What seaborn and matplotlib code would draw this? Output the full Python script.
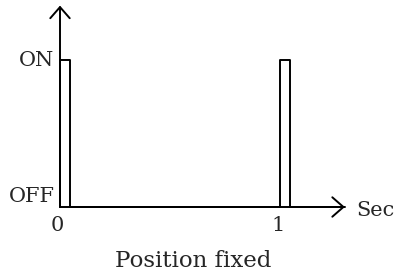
import numpy as np
import pandas as pd
import matplotlib
matplotlib.use("Agg")
import matplotlib.pyplot as plt
import seaborn as sns

# --- data ---
pulse_starts = [0.0, 1.0]      # seconds
pulse_width = 0.045            # seconds
levels = {"OFF": 0.0, "ON": 1.0}
x_ticks = [0, 1]
x_tick_labels = ["0", "1"]
x_end = 1.295
y_end = 1.37
x_label = "Sec"
caption = "Position fixed"

# build waveform from the pulse data
xs, ys = [], []
for s in pulse_starts:
    xs += [s, s, s + pulse_width, s + pulse_width]
    ys += [levels["OFF"], levels["ON"], levels["ON"], levels["OFF"]]
xs.append(x_end)
ys.append(levels["OFF"])
df = pd.DataFrame({"t": xs, "state": ys, "order": range(len(xs))})

sns.set_theme(style="white")
plt.rcParams["font.family"] = ["DejaVu Serif"]

fig = plt.figure(figsize=(3.96, 2.77), dpi=100)
ax = fig.add_axes([0, 0, 1, 1])
W, H = 396, 277
x0px, xscale = 60, 220
y0px, yscale = 70, 147
ax.set_xlim(-x0px / xscale, (W - x0px) / xscale)
ax.set_ylim(-y0px / yscale, (H - y0px) / yscale)

sns.lineplot(data=df, x="t", y="state", sort=False, estimator=None,
             color="black", lw=1.4, ax=ax, legend=False)

arrow = dict(arrowstyle="->,head_length=0.8,head_width=0.7", color="black",
             lw=1.4, shrinkA=0, shrinkB=0, mutation_scale=10)
ax.annotate("", xy=(x_end, 0), xytext=(0, 0), arrowprops=arrow)
ax.annotate("", xy=(0, y_end), xytext=(0, 0), arrowprops=arrow)

fs = 15
ax.text(-0.025, levels["ON"] - 0.005, "ON", ha="right", va="center", fontsize=fs)
ax.text(-0.025, levels["OFF"] + 0.005, "OFF", ha="right", va="bottom", fontsize=fs)
for xt, lab in zip(x_ticks, x_tick_labels):
    ax.text(xt - 0.01, -0.06, lab, ha="center", va="top", fontsize=fs)
ax.text(x_end + 0.05, -0.025, x_label, ha="left", va="center", fontsize=fs)
fig.text(193 / W, 1 - 261 / H, caption, ha="center", va="center", fontsize=16.5)

ax.set_axis_off()
fig.savefig("out.png", dpi=100, facecolor="white")
